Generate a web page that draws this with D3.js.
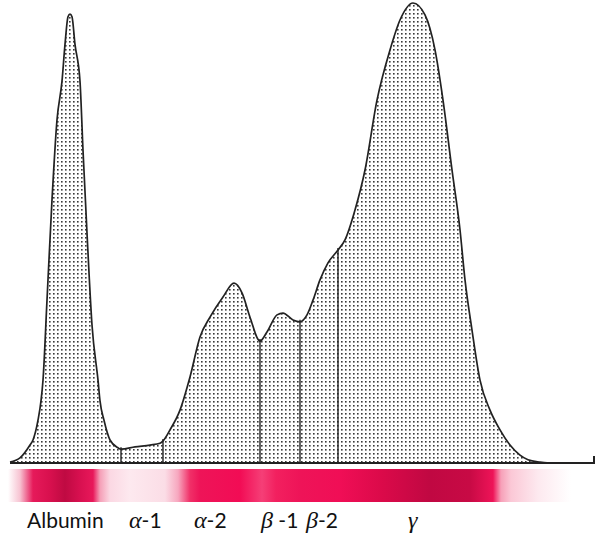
<!DOCTYPE html>
<html>
<head>
<meta charset="utf-8">
<script src="https://cdnjs.cloudflare.com/ajax/libs/d3/7.8.5/d3.min.js"></script>
<style>
  body { margin: 0; background: #fff; }
  svg { display: block; }
</style>
</head>
<body>
<div id="chart"></div>
<script>
// densitometer trace: [mobility, relative absorbance]
var trace = [
  [10, 0.2], [20, 1.1], [30, 3.9], [33, 5.0], [38, 9.3], [41, 13.5], [43, 18.0], [47, 35.4],
  [52, 57.2], [57, 74.6], [62, 83.0], [65, 91.0], [68, 97.0], [70, 97.6], [72, 97.0],
  [75, 91.0], [80, 83.0], [83, 68.0], [87, 50.0], [92, 30.0], [98, 18.0], [100, 13.5],
  [104, 9.3], [110, 5.0], [118, 3.3], [121, 3.0], [135, 3.5], [150, 3.9], [160, 4.3],
  [163, 4.8], [170, 7.2], [180, 11.5], [190, 18.7], [200, 27.4], [210, 31.7], [223, 36.1],
  [234, 39.1], [242, 37.0], [250, 31.7], [260, 26.5], [267, 28.5], [277, 32.2], [283, 32.6],
  [293, 31.1], [300, 30.7], [307, 32.2], [313, 35.4], [320, 39.8], [328, 43.5], [338, 46.3],
  [345, 48.5], [355, 55.0], [365, 63.7], [377, 78.9], [390, 89.8], [400, 96.3], [413, 100],
  [425, 97.4], [435, 89.8], [443, 78.9], [452, 63.7], [460, 50.7], [465, 39.8], [472, 28.9],
  [480, 18.0], [490, 11.5], [500, 7.2], [510, 3.9], [520, 1.7], [528, 0.7], [540, 0.2], [550, 0]
];

// fraction boundaries: [mobility, absorbance at top]
var dividers = [[121, 3.0], [163, 4.8], [260, 26.5], [300, 30.7], [338, 46.3]];

var fractionNames = ['Albumin', 'α', 'α', 'β', 'β', 'γ'];
var fractionSuffix = ['', '-1', '-2', ' -1', '-2', ''];
var labelPos = [27, 129, 194, 261, 306, 408];

// stained gel strip: [mobility, colour]
var bandStops = [
  [8, '#ffffff'], [20, '#f7c3d2'], [33, '#e61a5a'], [50, '#d8104e'], [65, '#bf0a42'],
  [80, '#d81050'], [93, '#e8185a'], [100, '#f59fb7'], [110, '#fbd8e3'], [130, '#fde9ef'],
  [165, '#fbdde6'], [178, '#f7a7bf'], [190, '#f03068'], [200, '#ee1458'], [240, '#f20c55'],
  [262, '#f53f77'], [276, '#f2205f'], [300, '#ee1458'], [340, '#f00e56'], [380, '#dc0a4a'],
  [430, '#c00842'], [470, '#c80a45'], [493, '#ee1458'], [501, '#f7a0b8'], [511, '#fbc8d6'],
  [538, '#fde9ef'], [571, '#ffffff']
];

var width = 598, height = 536;
var axisY = 463;

var x = d3.scaleLinear().domain([0, 598]).range([0, width]);
var y = d3.scaleLinear().domain([0, 100]).range([axisY, 3]);

var svg = d3.select('#chart').append('svg').attr('width', width).attr('height', height);
var defs = svg.append('defs');

var pat = defs.append('pattern').attr('id', 'dots').attr('patternUnits', 'userSpaceOnUse')
  .attr('width', 4).attr('height', 4);
pat.append('rect').attr('width', 4).attr('height', 4).attr('fill', '#fff');
pat.append('rect').attr('x', 1).attr('y', 1).attr('width', 1.6).attr('height', 1.6).attr('fill', '#3a3a3a');

var grad = defs.append('linearGradient').attr('id', 'gel')
  .attr('gradientUnits', 'userSpaceOnUse')
  .attr('x1', x(0)).attr('x2', x(598)).attr('y1', 0).attr('y2', 0);
grad.selectAll('stop').data(bandStops).enter().append('stop')
  .attr('offset', function (d) { return d[0] / 598; })
  .attr('stop-color', function (d) { return d[1]; });

var area = d3.area().x(function (d) { return x(d[0]); })
  .y0(y(0)).y1(function (d) { return y(d[1]); }).curve(d3.curveMonotoneX);
var line = d3.line().x(function (d) { return x(d[0]); })
  .y(function (d) { return y(d[1]); }).curve(d3.curveMonotoneX);

svg.append('path').datum(trace).attr('d', area).attr('fill', 'url(#dots)');

svg.append('g').selectAll('line').data(dividers).enter().append('line')
  .attr('x1', function (d) { return x(d[0]); }).attr('x2', function (d) { return x(d[0]); })
  .attr('y1', y(0)).attr('y2', function (d) { return y(d[1]) - 2; })
  .attr('stroke', '#222').attr('stroke-width', 1.4);

svg.append('path').datum(trace).attr('d', line).attr('fill', 'none')
  .attr('stroke', '#222').attr('stroke-width', 1.7).attr('stroke-linejoin', 'round');

// baseline with end tick
svg.append('path')
  .attr('d', 'M' + x(10) + ',' + y(0) + 'H' + x(594) + 'V' + (y(0) - 7))
  .attr('fill', 'none').attr('stroke', '#222').attr('stroke-width', 2);

svg.append('rect').attr('x', x(0)).attr('y', 469).attr('width', x(598) - x(0)).attr('height', 33)
  .attr('fill', 'url(#gel)');

var labels = svg.append('g').attr('font-size', 21).attr('fill', '#111');
labels.selectAll('text').data(fractionNames).enter().append('text')
  .attr('x', function (d, i) { return x(labelPos[i]); })
  .attr('y', 528)
  .each(function (d, i) {
    var t = d3.select(this);
    if (i === 0) {
      t.append('tspan').attr('font-family', 'Lato, sans-serif').text(d);
    } else {
      t.append('tspan').attr('font-family', '"Liberation Serif", serif')
        .attr('font-style', 'italic').attr('font-size', 24).text(d);
      t.append('tspan').attr('font-family', 'Lato, sans-serif').text(fractionSuffix[i]);
    }
  });
</script>
</body>
</html>
